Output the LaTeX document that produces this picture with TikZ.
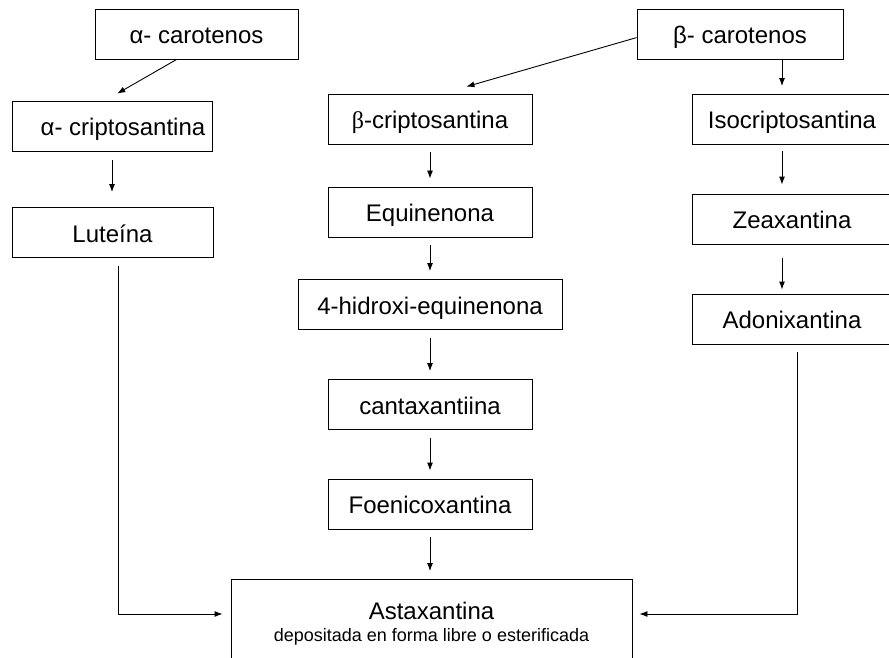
\documentclass[tikz,border=0pt]{standalone}
\usepackage{fontspec}
\setmainfont{Liberation Sans}
\newfontfamily\symbolfont{Liberation Serif}
\usetikzlibrary{arrows.meta}
\begin{document}
\begin{tikzpicture}[x=1pt,y=-1pt,>={Latex[length=8pt,width=6pt]},line width=0.9pt,
  caja/.style={draw,minimum height=50pt,inner sep=0pt,text height=21pt,text depth=2pt,font=\fontsize{24}{28}\selectfont}]
\useasboundingbox (0,0) rectangle (889,658);
\node[caja,minimum width=203pt] (acar) at (196.5,34) {α- carotenos\hspace{10pt}};
\node[caja,minimum width=206pt] (bcar) at (740,34) {β- carotenos};
\node[caja,minimum width=200pt] (acrip) at (112,126.5) {\hspace{22pt}α- criptosantina};
\node[caja,minimum width=204pt] (bcrip) at (430,119) {{\symbolfont β}-criptosantina};
\node[caja,minimum width=200pt] (iso) at (792,119.5) {Isocriptosantina};
\node[caja,minimum width=201pt] (lut) at (112.5,232.5) {Luteína\hspace{12pt}};
\node[caja,minimum width=204pt] (equi) at (430,212) {Equinenona};
\node[caja,minimum width=200pt] (zea) at (792,219) {Zeaxantina\hspace{22pt}};
\node[caja,minimum width=264pt] (hidr) at (430,304.5) {4-hidroxi-equinenona};
\node[caja,minimum width=200pt] (adon) at (792,319) {Adonixantina};
\node[caja,minimum width=204pt] (canta) at (430,404.5) {cantaxantiina};
\node[caja,minimum width=204pt] (foen) at (430,504) {Foenicoxantina};
\node[draw,anchor=north,minimum width=401pt,align=center,inner ysep=23pt,text depth=60pt,
  font=\fontsize{18}{22}\selectfont] (asta) at (431.5,579)
  {{\fontsize{24}{28}\selectfont Astaxantina}\\depositada en forma libre o esterificada};
\draw[->,shorten >=15pt] (acar.-128) -- (acrip.107);
\draw[->,shorten >=25pt] (bcar.182) -- (bcrip.64);
\draw[->,shorten <=8pt,shorten >=15pt] (acrip.south) -- (acrip.south |- lut.north);
\foreach \a/\b in {bcrip/equi,equi/hidr,hidr/canta,canta/foen}
  \draw[->,shorten <=8pt,shorten >=8pt] (\a.south) -- (\b.north);
\draw[->,shorten <=8pt,shorten >=8pt] (foen.south) -- (foen.south |- asta.north);
\draw[->,shorten >=8pt] ([xshift=-10pt]iso.north |- bcar.south) -- ([xshift=-10pt]iso.north);
\draw[->,shorten <=6pt,shorten >=9pt] ([xshift=-10pt]iso.south) -- ([xshift=-10pt]zea.north);
\draw[->,shorten <=14pt,shorten >=4pt] ([xshift=-10pt]zea.south) -- ([xshift=-10pt]adon.north);
\draw[->,shorten <=8pt,shorten >=7pt] ([xshift=5pt]adon.south) |- ([yshift=-35pt]asta.north east);
\draw[->,shorten <=8pt,shorten >=8pt] ([xshift=6pt]lut.south) |- ([yshift=-35pt]asta.north west);
\end{tikzpicture}
\end{document}
